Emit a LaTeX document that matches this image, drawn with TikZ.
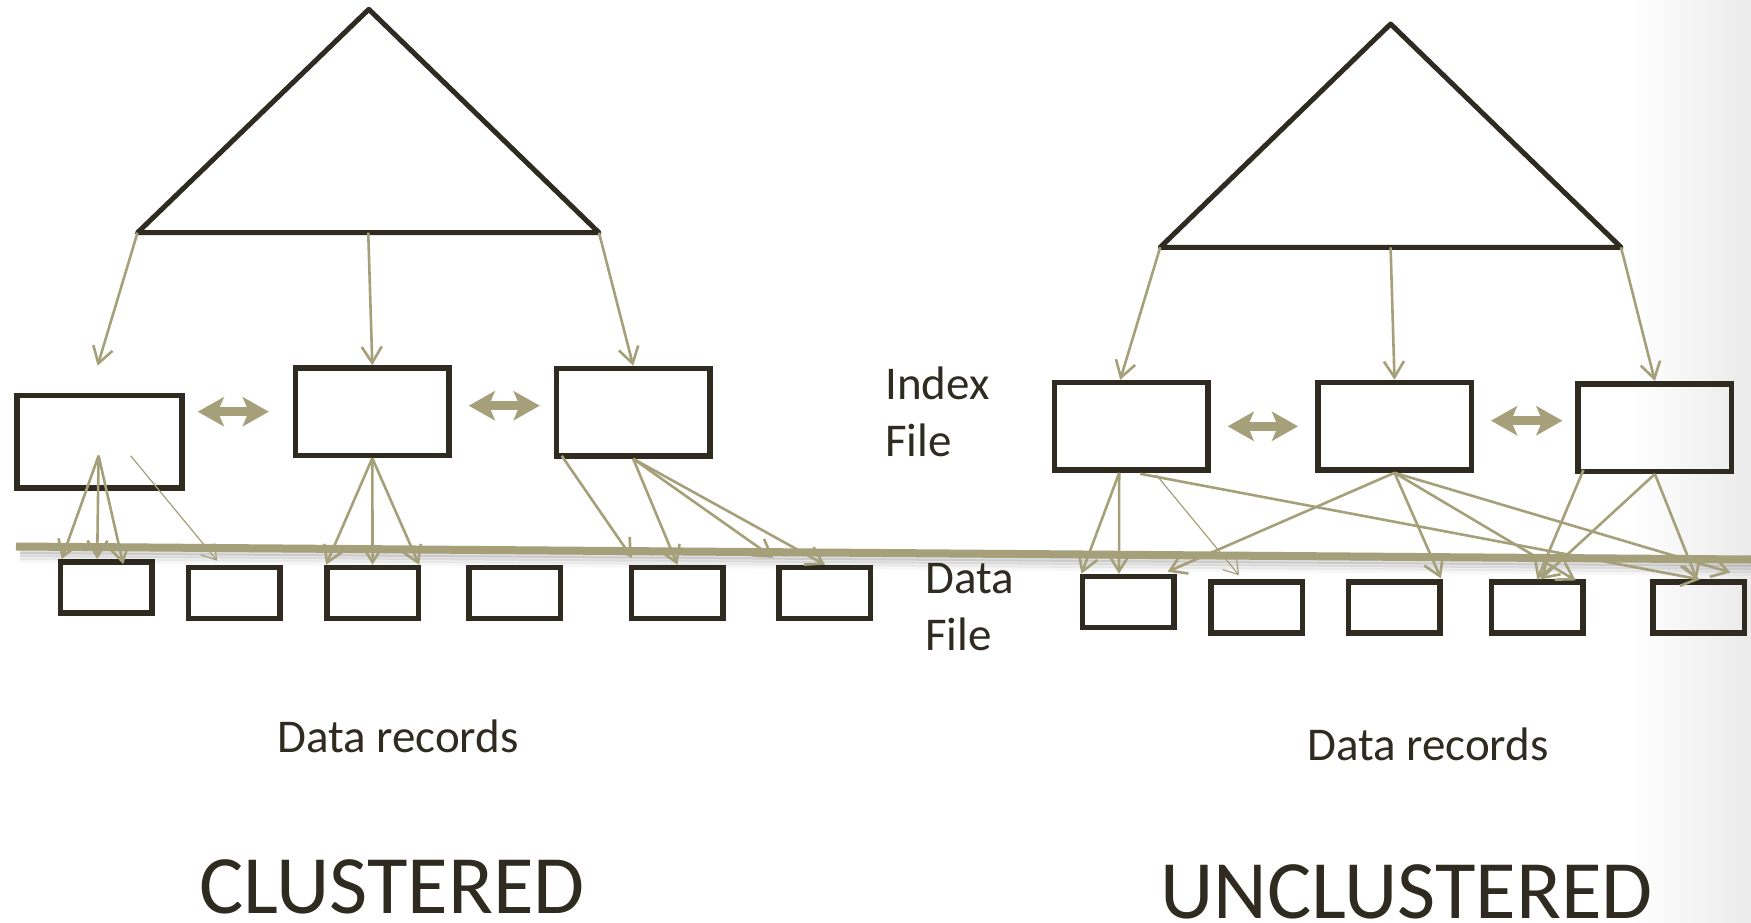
\documentclass[tikz,border=0pt]{standalone}
\usepackage{fontspec}
\setmainfont{Carlito}
\usetikzlibrary{arrows.meta,calc}
\definecolor{ink}{HTML}{2F2B20}
\definecolor{olive}{HTML}{A5A07A}
\begin{document}
\begin{tikzpicture}[x=1pt,y=-1pt,
  ibox/.style={draw=ink,line width=5.5pt,minimum width=153.5pt,minimum height=87.5pt,inner sep=0pt},
  dbox/.style={draw=ink,line width=5.5pt,minimum width=91.5pt,minimum height=51pt,inner sep=0pt},
  ptr/.style={draw=olive,line width=2.6pt,-{Straight Barb[length=16pt,width=20pt]}},
  thinptr/.style={draw=olive,line width=1.2pt,-{Straight Barb[length=14pt,width=18pt]}},
  dbl/.style={draw=olive,line width=8.5pt,{Stealth[length=26pt,width=29pt,inset=6pt]}-{Stealth[length=26pt,width=29pt,inset=6pt]}},
  tri/.style={draw=ink,line width=5pt,line join=round},
  lbl/.style={inner sep=0pt,anchor=base west,text=ink,font=\fontsize{47}{56}\selectfont},
  big/.style={inner sep=0pt,anchor=base west,text=ink,font=\fontsize{83}{96}\selectfont}]
\useasboundingbox (0,0) rectangle (1751,923);
\fill[white] (0,0) rectangle (1751,923);
\shade[left color=white,right color=black!8] (1630,0) rectangle (1751,923);

% triangles
\coordinate (LTa) at (368.8,9.3);
\coordinate (LTl) at (137.5,232.7);
\coordinate (LTr) at (599,232.7);
\coordinate (RTa) at (1390.6,24);
\coordinate (RTl) at (1160.2,247.3);
\coordinate (RTr) at (1621,247.3);
\draw[tri] (LTa) -- (LTl) -- (LTr) -- cycle;
\draw[tri] (RTa) -- (RTl) -- (RTr) -- cycle;

% index boxes
\node[ibox,minimum width=165pt,minimum height=92.5pt] (b1) at (99.6,441.7) {};
\node[ibox] (b2) at (372.3,411.7) {};
\node[ibox] (b3) at (633.2,412.3) {};
\node[ibox] (R1) at (1131.2,426.3) {};
\node[ibox] (R2) at (1394.5,426.3) {};
\node[ibox] (R3) at (1654.9,427.5) {};

% data boxes
\node[dbox] (d1) at (106.2,587.3) {};
\node[dbox] (d2) at (234.2,593) {};
\node[dbox] (d3) at (372.6,593) {};
\node[dbox] (d4) at (514.9,593) {};
\node[dbox] (d5) at (677.4,593) {};
\node[dbox] (d6) at (824.9,593) {};
\node[dbox] (e1) at (1128,602) {};
\node[dbox] (e2) at (1256.7,607.7) {};
\node[dbox] (e3) at (1394.4,607.7) {};
\node[dbox] (e4) at (1537.2,607.7) {};
\node[dbox] (e5) at (1698.9,607.7) {};

% separator line with shadow
\coordinate (Ls) at (16,546.5);
\coordinate (Le) at (1751,559.5);
\foreach \d/\o in {5/0.12,8/0.09,11/0.06,14/0.03}
  \draw[black,opacity=\o,line width=5pt] ($(Ls)+(4,\d)$) -- ($(Le)+(0,\d)$);
\draw[olive,line width=8pt] (Ls) -- (Le);

% triangle -> index boxes
\draw[ptr] (LTl) -- ($(b1.north)+(-2,-27)$);
\draw[ptr] ($(LTl)!0.5!(LTr)$) -- (b2.north);
\draw[ptr] (LTr) -- (b3.north);
\draw[ptr] (RTl) -- ($(R1.north)+(-11,0)$);
\draw[ptr] ($(RTl)!0.5!(RTr)$) -- (R2.north);
\draw[ptr] (RTr) -- (R3.north);

% sibling links
\draw[dbl] ($(b2.west)+(-95,0)$) -- ($(b2.west)+(-24,0)$);
\draw[dbl] ($(b2.east)+(17,-6)$) -- ($(b3.west)+(-14,-6.6)$);
\draw[dbl] ($(R1.east)+(17,0)$) -- ($(R2.west)+(-17,0)$);
\draw[dbl] ($(R2.east)+(17,-5.6)$) -- ($(R3.west)+(-13,-6.8)$);

% clustered: index -> data
\coordinate (b1s) at ($(b1.center)+(-1,14)$);
\draw[ptr] (b1s) -- ($(d1.north west)+(4,0)$);
\draw[ptr] (b1s) -- ($(d1.north)+(-9,0)$);
\draw[ptr] (b1s) -- ($(d1.north)+(17,5)$);
\draw[thinptr] ($(b1.center)+(31,14)$) -- ($(d2.north)+(-17,-4)$);
\draw[ptr] (b2.south) -- ($(d3.north west)+(2,0)$);
\draw[ptr] (b2.south) -- (d3.north);
\draw[ptr] (b2.south) -- ($(d3.north east)+(-2,0)$);
\draw[ptr] ($(b3.south west)+(8,-3)$) -- ($(d5.north west)+(3,-7)$);
\draw[ptr] (b3.south) -- (d5.north);
\draw[ptr] (b3.south) -- ($(d6.north west)+(-3,-7)$);
\draw[ptr] (b3.south) -- (d6.north);

% unclustered: index -> data
\draw[ptr] ($(R1.south)+(-12,0)$) -- ($(e1.north west)+(2,0)$);
\draw[ptr] ($(R1.south)+(-12,0)$) -- ($(e1.north)+(-9,0)$);
\draw[thinptr] ($(R1.south)+(25,2)$) -- ($(e2.north west)+(31,-4)$);
\draw[ptr] ($(R1.south)+(9,1)$) -- ($(e5.north)+(1,0)$);
\draw[ptr] (R2.south) -- ($(e1.north east)+(-9,-2)$);
\draw[ptr] (R2.south) -- ($(e3.north east)+(-2,-1)$);
\draw[ptr] (R2.south) -- ($(e4.north east)+(-10,1)$);
\draw[ptr] (R2.south) -- ($(e5.north east)+(-17,-7)$);
\draw[ptr] ($(R3.south west)+(8,-4)$) -- (e4.north);
\draw[ptr] (R3.south) -- ($(e4.north)+(3,0)$);
\draw[ptr] (R3.south) -- ($(e5.north)+(-2,0)$);

% labels
\node[lbl] (idx) at (885,399.3) {Index};
\node[lbl] (idxf) at (885,456.7) {File};
\node[lbl] (dat) at (925,593.3) {Data};
\node[lbl] (datf) at (925,650) {File};
\node[lbl] (recL) at (277,752.3) {Data records};
\node[lbl] (recR) at (1307,760) {Data records};
\node[big] (cl) at (199,913) {CLUSTERED};
\node[big] (ucl) at (1160,918) {UNCLUSTERED};
\end{tikzpicture}
\end{document}
